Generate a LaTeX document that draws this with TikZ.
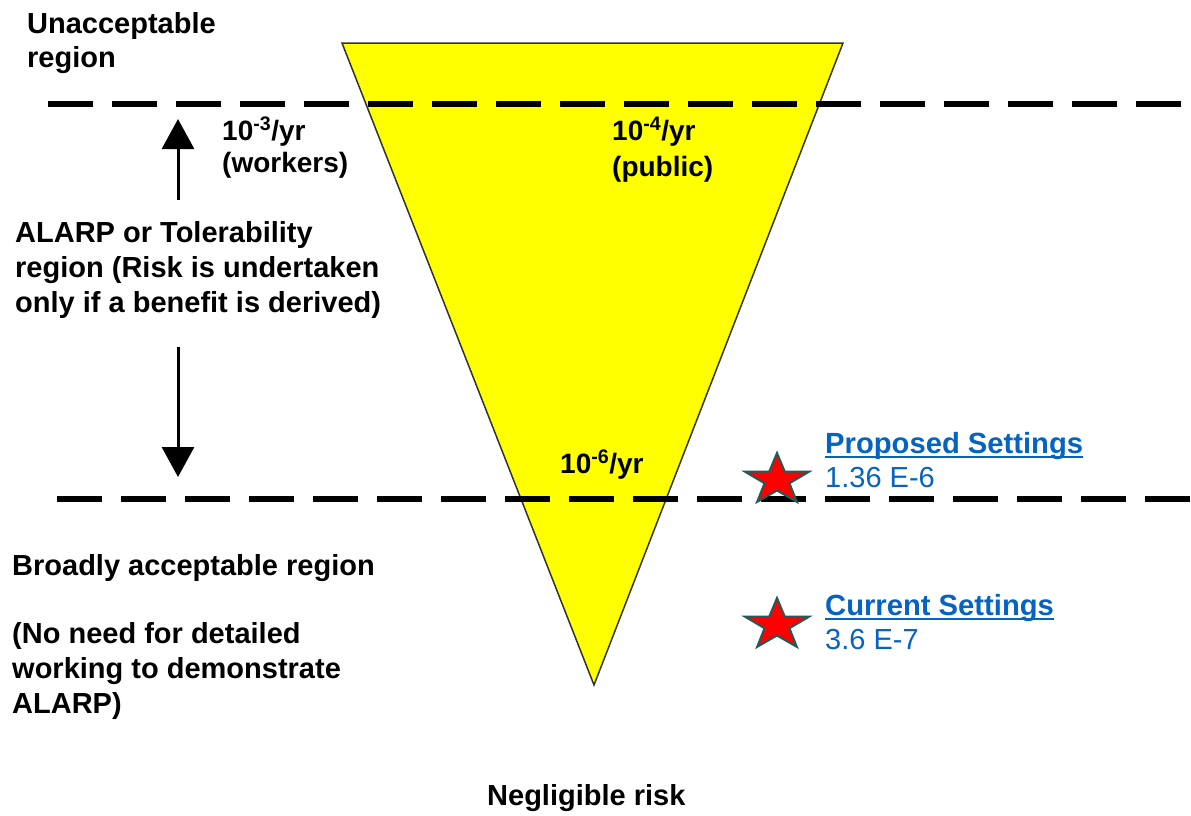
\documentclass[tikz,border=0pt]{standalone}
\usepackage{fontspec}
\setmainfont{Liberation Sans}
\usetikzlibrary{arrows.meta}
\definecolor{triyellow}{RGB}{255,255,0}
\definecolor{linkblue}{RGB}{5,99,193}
\definecolor{staredge}{RGB}{35,90,90}
\begin{document}
\begin{tikzpicture}[x=1pt,y=-1pt,
  lbl/.style={font=\bfseries\fontsize{29}{35}\selectfont, inner sep=0pt, anchor=base west, align=left},
  small lbl/.style={font=\bfseries\fontsize{28}{33}\selectfont, inner sep=0pt, anchor=base west, align=left},
  blue lbl/.style={font=\fontsize{29}{34}\selectfont, text=linkblue, inner sep=0pt, anchor=base west},
  link lbl/.style={font=\bfseries\fontsize{29.2}{34}\selectfont, text=linkblue, inner sep=0pt, anchor=base west},
  riskline/.style={line width=6pt, dash pattern=on 45pt off 19pt},
  arr/.style={line width=3pt, -{Triangle[width=32pt,length=30pt]}},
  starmark/.style={fill=red, draw=staredge, line width=2pt, line join=miter},
  tri/.style={fill=triyellow, draw=black!80, line width=1.5pt, line join=miter}]
\useasboundingbox (0,0) rectangle (1191,815);
\fill[white] (0,0) rectangle (1191,815);

% triangle
\draw[tri] (342,43) -- (843,43) -- (594,685) -- cycle;

% dashed region lines
\coordinate (topL) at (48,104);
\coordinate (topR) at (1185,104);
\coordinate (botL) at (57,499);
\coordinate (botR) at (1191,499);
\draw[riskline] (topL) -- (topR);
\draw[riskline] (botL) -- (botR);

% arrows
\coordinate (upFrom) at (178,200);
\coordinate (upTo) at (178,119);
\coordinate (dnFrom) at (178,347);
\coordinate (dnTo) at (178,477);
\draw[arr] (upFrom) -- (upTo);
\draw[arr] (dnFrom) -- (dnTo);

% labels (multi-line nodes are placed at the baseline of their last line)
\node[lbl, font=\bfseries\fontsize{29}{34}\selectfont] (unacc) at (27,67) {Unacceptable\\region};
\node[small lbl, font=\bfseries\fontsize{28}{32}\selectfont] (workers) at (222,172) {10\textsuperscript{-3}/yr\\(workers)};
\node[small lbl, font=\bfseries\fontsize{28}{36}\selectfont] (public) at (612,176) {10\textsuperscript{-4}/yr\\(public)};
\node[small lbl] (sixyr) at (560,473) {10\textsuperscript{-6}/yr};
\node[lbl] (alarp) at (15,312) {ALARP or Tolerability\\region (Risk is undertaken\\only if a benefit is derived)};
\node[lbl] (broad) at (12,575) {Broadly acceptable region};
\node[lbl] (noneed) at (12,713) {(No need for detailed\\working to demonstrate\\ALARP)};
\node[lbl] (negl) at (487,805) {Negligible risk};

% settings
\draw[starmark, shift={(777,480)}, xscale=1.25] (270:27) -- (306:10.5) -- (342:27) -- (18:10.5) -- (54:27) -- (90:10.5) -- (126:27) -- (162:10.5) -- (198:27) -- (234:10.5) -- cycle;
\draw[starmark, shift={(777,625)}, xscale=1.25] (270:27) -- (306:10.5) -- (342:27) -- (18:10.5) -- (54:27) -- (90:10.5) -- (126:27) -- (162:10.5) -- (198:27) -- (234:10.5) -- cycle;

\node[link lbl] (prop) at (825,453) {Proposed Settings};
\draw[linkblue, line width=2pt] ([yshift=-3.5pt]prop.base west) -- ([yshift=-3.5pt]prop.base east);
\node[blue lbl] (propval) at (825,487) {1.36 E-6};
\node[link lbl] (curr) at (825,615) {Current Settings};
\draw[linkblue, line width=2pt] ([yshift=-3.5pt]curr.base west) -- ([yshift=-3.5pt]curr.base east);
\node[blue lbl] (currval) at (825,649) {3.6 E-7};
\end{tikzpicture}
\end{document}
